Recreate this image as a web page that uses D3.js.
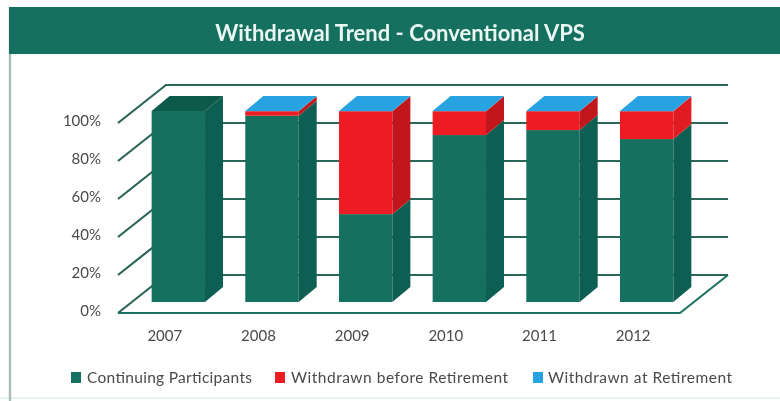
<!DOCTYPE html>
<html><head><meta charset="utf-8">
<script src="https://cdn.jsdelivr.net/npm/d3@7"></script>
<style>html,body{margin:0;padding:0;background:#fff}svg{display:block}text{font-family:Lato,"Open Sans",sans-serif}</style>
</head><body><svg id="c" width="780" height="401"></svg>
<script>
const title = "Withdrawal Trend - Conventional VPS";
const years = ["2007","2008","2009","2010","2011","2012"];
const continuing = [100, 97.5, 46, 87.4, 90, 85.3];
const beforeRetirement = [0, 2.4, 53.9, 12.5, 9.9, 14.6];
const atRetirement = [0, 0.1, 0.1, 0.1, 0.1, 0.1];
const yTicks = [0, 20, 40, 60, 80, 100];
const seriesNames = ["Continuing Participants", "Withdrawn before Retirement", "Withdrawn at Retirement"];
const seriesValues = [continuing, beforeRetirement, atRetirement];
const seriesColors = [
  {front:"#14705f", side:"#0f5f52", top:"#0f5a4c", key:"#14705f"},
  {front:"#ed1c24", side:"#c0191f", top:"#c0191f", key:"#ed1c24"},
  {front:"#27a3e0", side:"#1f86ba", top:"#27a3e0", key:"#27a3e0"}
];

const svg = d3.select("#c");
const defs = svg.append("defs");
defs.append("filter").attr("id","soft").attr("x","-5%").attr("y","-5%").attr("width","110%").attr("height","110%")
  .append("feGaussianBlur").attr("stdDeviation",0.55);
const root = svg.append("g").attr("filter","url(#soft)");

const DX = 48, DY = 38;        // floor depth of the 3D box
const BDX = 18, BDY = 15;      // depth of each column
const x = d3.scaleBand().domain(years).range([118, 680]).paddingInner(0.43).paddingOuter(0.215);
const yWall = d3.scaleLinear().domain([0, 100]).range([313, 123]);
const yBar = d3.scaleLinear().domain([0, 100]).range([302, 111]);
const BAR_SHIFT = 13.5;

// panel
root.append("rect").attr("x",0).attr("y",0).attr("width",780).attr("height",401).attr("fill","#fff");
root.append("line").attr("x1",0).attr("x2",780).attr("y1",398).attr("y2",398).attr("stroke","#e6f3ef").attr("stroke-width",2);
root.append("line").attr("x1",10).attr("x2",10).attr("y1",7).attr("y2",401).attr("stroke","#a9bdb8").attr("stroke-width",2.4);
root.append("rect").attr("x",9).attr("y",7).attr("width",771).attr("height",47).attr("fill","#15705f");
root.append("text").attr("x",400).attr("y",41).attr("text-anchor","middle")
  .attr("fill","#eaf6f2").attr("font-size",22).attr("font-weight",700).text(title);

// walls
const grid = root.append("g").attr("fill","none").attr("stroke","#2c6558").attr("stroke-width",2.2);
yTicks.forEach(t => {
  const y0 = yWall(t);
  grid.append("path").attr("d", d3.line()([[118,y0],[118+DX,y0-DY],[680+DX,y0-DY]]));
});
grid.append("path").attr("stroke","#1f7464")
  .attr("d", d3.line()([[118,yWall(0)],[680,yWall(0)],[680+DX,yWall(0)-DY]]));

// y labels
root.append("g").selectAll("text").data(yTicks).join("text")
  .attr("x",101).attr("y",t=>yWall(t)+3).attr("text-anchor","end")
  .attr("font-size",15).attr("fill","#4a4a4a").text(t=>t+"%");

// x labels
root.append("g").selectAll("text").data(years).join("text")
  .attr("x",d=>x(d)+x.bandwidth()/2).attr("y",341).attr("text-anchor","middle")
  .attr("font-size",15).attr("fill","#4a4a4a").text(d=>d);

// columns
const bars = root.append("g");
years.forEach((yr,i) => {
  const xl = x(yr)+BAR_SHIFT, xr = xl+x.bandwidth();
  let acc = 0, lastTop = 0;
  seriesValues.forEach((vals,s) => {
    const v = vals[i];
    if (v <= 0) return;
    const yb = yBar(acc), yt = yBar(acc+v);
    const c = seriesColors[s];
    bars.append("rect").attr("x",xl).attr("y",yt).attr("width",xr-xl).attr("height",yb-yt).attr("fill",c.front);
    bars.append("polygon").attr("fill",(s===1 && i===years.length-1) ? "#e01a22" : c.side)
      .attr("points",[[xr,yb],[xr+BDX,yb-BDY],[xr+BDX,yt-BDY],[xr,yt]].join(" "));
    acc += v; lastTop = s;
  });
  const yt = yBar(acc);
  bars.append("polygon").attr("fill",seriesColors[lastTop].top)
    .attr("points",[[xl,yt],[xl+BDX,yt-BDY],[xr+BDX,yt-BDY],[xr,yt]].join(" "));
});

// legend
const legendX = [71, 275, 533], legendText = [87, 291, 548], legendLen = [165, 217, 184];
seriesNames.forEach((n,i) => {
  root.append("rect").attr("x",legendX[i]).attr("y",372).attr("width",10).attr("height",11).attr("fill",seriesColors[i].key);
  root.append("text").attr("x",legendText[i]).attr("y",382.5).attr("font-size",15.5)
    .attr("textLength",legendLen[i]).attr("lengthAdjust","spacing").attr("fill","#4a4a4a").text(n);
});
</script></body></html>
